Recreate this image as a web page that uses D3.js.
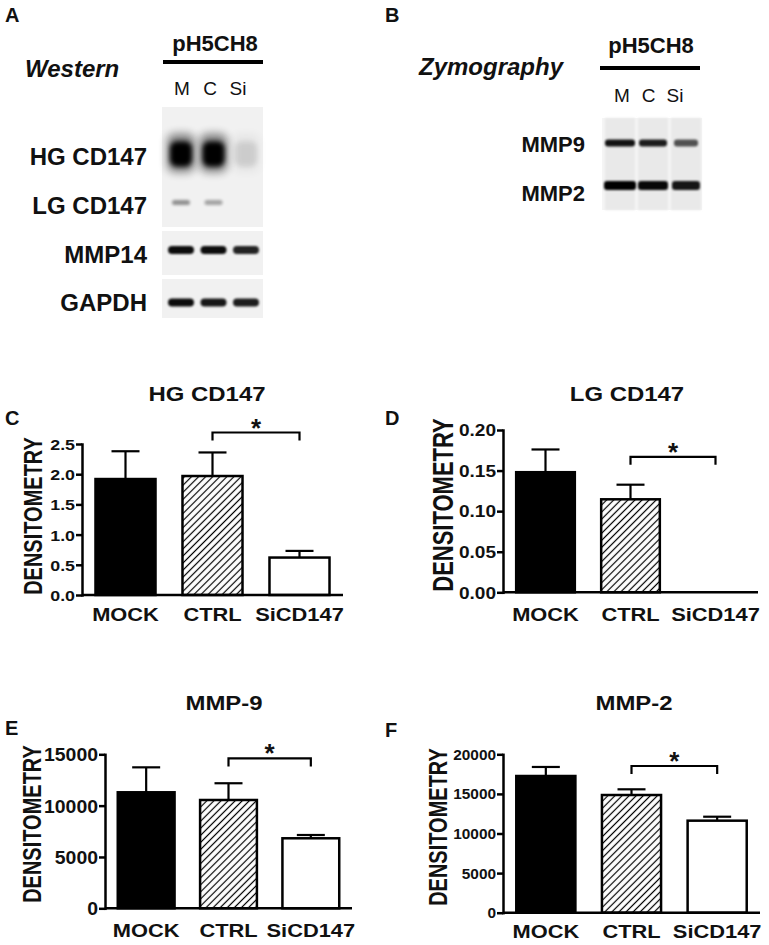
<!DOCTYPE html>
<html>
<head>
<meta charset="utf-8">
<script src="https://cdn.jsdelivr.net/npm/d3@7"></script>
<style>
  body { margin: 0; background: #fff; }
  text { font-family: "Liberation Sans", Arial, sans-serif; fill: #111; }
</style>
</head>
<body>
<svg id="fig"></svg>
<script>
// ---- data ----
const groups = ["MOCK", "CTRL", "SiCD147"];

const hgMeans = [1.92, 1.97, 0.62];
const hgSem = [0.46, 0.39, 0.11];
const hgSig = 2.69;

const lgMeans = [0.148, 0.1146, 0];
const lgSem = [0.028, 0.018, 0];
const lgSig = 0.167;

const mmp9Means = [11300, 10550, 6820];
const mmp9Sem = [2430, 1630, 320];
const mmp9Sig = 14600;

const mmp2Means = [17260, 14860, 11620];
const mmp2Sem = [1140, 720, 500];
const mmp2Sig = 18520;

const lanes = ["M", "C", "Si"];
const westernRows = ["HG CD147", "LG CD147", "MMP14", "GAPDH"];
const westernBands = [[1.0, 1.0, 0.1], [0.4, 0.32, 0], [0.95, 0.95, 0.85], [0.95, 0.9, 0.88]];
const zymoRows = ["MMP9", "MMP2"];
const zymoBands = [[0.92, 0.88, 0.65], [1.0, 0.97, 0.9]];

// ---- setup ----
const svg = d3.select("#fig").attr("width", 769).attr("height", 945);
const defs = svg.append("defs");

const hatch = defs.append("pattern")
  .attr("id", "hatch")
  .attr("patternUnits", "userSpaceOnUse")
  .attr("width", 5).attr("height", 5)
  .attr("patternTransform", "rotate(45)");
hatch.append("rect").attr("width", 5).attr("height", 5).attr("fill", "#fff");
hatch.append("line").attr("x1", 2.5).attr("x2", 2.5).attr("y1", 0).attr("y2", 5)
  .attr("stroke", "#000").attr("stroke-width", 1.2);

[1, 1.5, 2.5, 4].forEach(s => {
  defs.append("filter").attr("id", "blur" + String(s).replace(".", "_"))
    .attr("x", "-50%").attr("y", "-80%").attr("width", "200%").attr("height", "260%")
    .append("feGaussianBlur").attr("stdDeviation", s);
});

function label(g, x, y, str, size, opts = {}) {
  const sx = opts.sx || 1;
  return g.append("text")
    .attr("transform", `translate(${x},${y}) scale(${sx},1)`)
    .attr("text-anchor", opts.anchor || "start")
    .attr("font-size", size)
    .attr("font-weight", opts.weight || "bold")
    .attr("font-style", opts.italic ? "italic" : null)
    .text(str);
}

// ---- top blots ----
function header(o) {
  const g = svg.append("g");
  label(g, o.letterX, 22, o.letter, 20);
  label(g, o.methodX, o.methodY, o.method, 24, { italic: true });
  label(g, o.tagX, o.tagY, "pH5CH8", 22, { anchor: "middle" });
  g.append("rect").attr("x", o.lineX).attr("y", o.lineY).attr("width", 100).attr("height", 4).attr("fill", "#000");
  const lx = d3.scalePoint().domain(lanes).range(o.laneLabelRange);
  g.selectAll("text.lane").data(lanes).join("text")
    .attr("class", "lane")
    .attr("x", d => lx(d)).attr("y", o.laneLabelY)
    .attr("text-anchor", "middle").attr("font-size", 19)
    .text(d => d);
}

header({ letter: "A", letterX: 5, method: "Western", methodX: 25, methodY: 77,
  tagX: 215, tagY: 51, lineX: 163, lineY: 60, laneLabelRange: [182, 238], laneLabelY: 95 });
header({ letter: "B", letterX: 385, method: "Zymography", methodX: 419, methodY: 75,
  tagX: 651, tagY: 53, lineX: 600, lineY: 66, laneLabelRange: [622, 675], laneLabelY: 102 });

// western membranes
const westLane = d3.scalePoint().domain(lanes).range([181, 246]);
const westMembranes = [{ y0: 107, y1: 227 }, { y0: 231, y1: 275 }, { y0: 279, y1: 318 }];
const westLayout = [
  { y: 154, w: 22, h: 25, blur: 2.5, halo: true, labelY: 165 },
  { y: 202.5, w: 18, h: 5, blur: 1.5, labelY: 213.5 },
  { y: 250, w: 26, h: 8, blur: 1, labelY: 262.5 },
  { y: 302.5, w: 26, h: 8, blur: 1, labelY: 311 }
];
const gW = svg.append("g");
gW.selectAll("rect.mem").data(westMembranes).join("rect")
  .attr("x", 162).attr("width", 101)
  .attr("y", d => d.y0).attr("height", d => d.y1 - d.y0)
  .attr("fill", "#f1f1f1");
westernRows.forEach((name, r) => {
  const L = westLayout[r];
  const bands = lanes.map((k, i) => ({ k, v: westernBands[r][i] })).filter(d => d.v > 0);
  if (L.halo) {
    gW.selectAll(null).data(bands).join("rect")
      .attr("x", d => westLane(d.k) - L.w / 2 - 3).attr("width", L.w + 6)
      .attr("y", L.y - L.h / 2 - 8).attr("height", L.h + 14)
      .attr("rx", 8)
      .attr("fill", "#000").attr("opacity", d => d.v * 0.45)
      .attr("filter", "url(#blur4)");
  }
  gW.selectAll(null).data(bands).join("rect")
    .attr("x", d => westLane(d.k) - L.w / 2).attr("width", L.w)
    .attr("y", L.y - L.h / 2).attr("height", L.h)
    .attr("rx", Math.min(L.h / 2, 7))
    .attr("fill", "#000").attr("opacity", d => d.v)
    .attr("filter", "url(#blur" + String(L.blur).replace(".", "_") + ")");
  label(gW, 147, L.labelY, name, 24, { anchor: "end" });
});

// zymography gel
const zymoLane = d3.scalePoint().domain(lanes).range([620, 686]);
const zymoLayout = [
  { y: 143, h: 7, widths: [30, 28, 24], labelY: 152 },
  { y: 185.5, h: 9, widths: [32, 30, 28], labelY: 201 }
];
const gZ = svg.append("g");
gZ.append("rect").attr("x", 602).attr("y", 118).attr("width", 100).attr("height", 92).attr("fill", "#f5f5f5");
gZ.selectAll("rect.lanebg").data(lanes).join("rect")
  .attr("x", d => zymoLane(d) - 15).attr("width", 30)
  .attr("y", 118).attr("height", 92)
  .attr("fill", "#e9e9e9").attr("filter", "url(#blur1)");
zymoRows.forEach((name, r) => {
  const L = zymoLayout[r];
  const bands = lanes.map((k, i) => ({ k, v: zymoBands[r][i], w: L.widths[i] }));
  gZ.selectAll(null).data(bands).join("rect")
    .attr("x", d => zymoLane(d.k) - d.w / 2).attr("width", d => d.w)
    .attr("y", L.y - L.h / 2).attr("height", L.h)
    .attr("rx", 3)
    .attr("fill", "#000").attr("opacity", d => d.v)
    .attr("filter", "url(#blur1)");
  label(gZ, 585, L.labelY, name, 22, { anchor: "end" });
});

// ---- bar charts ----
const fills = ["#000", "url(#hatch)", "#fff"];

function barPanel(p) {
  const g = svg.append("g");
  const x = d3.scaleBand().domain(groups).range([p.x0, p.x1]).paddingInner(0.31).paddingOuter(0.155);
  const y = d3.scaleLinear().domain([0, p.max]).range([p.yBase, p.yTop]);
  const rows = groups.map((k, i) => ({ k, i, m: p.means[i], s: p.sems[i] }));

  label(g, p.letterX, p.letterY, p.letter, 20);
  label(g, p.titleX, p.titleY, p.title, 21, { anchor: "middle", sx: 1.14 });

  g.append("text")
    .attr("transform", `translate(${p.ylabX},${p.ylabY}) scale(1.3,1) rotate(-90)`)
    .attr("text-anchor", "middle").attr("dominant-baseline", "central")
    .attr("font-size", p.ylabSize).attr("font-weight", "bold")
    .text("DENSITOMETRY");

  // bars
  g.selectAll("rect.bar").data(rows.filter(d => d.m > 0)).join("rect")
    .attr("class", "bar")
    .attr("x", d => x(d.k)).attr("width", x.bandwidth())
    .attr("y", d => y(d.m)).attr("height", d => y(0) - y(d.m))
    .attr("fill", d => fills[d.i])
    .attr("stroke", "#000").attr("stroke-width", 2.5);

  // error bars (upper only)
  const eb = rows.filter(d => d.s > 0);
  g.selectAll("line.err").data(eb).join("line")
    .attr("x1", d => x(d.k) + x.bandwidth() / 2).attr("x2", d => x(d.k) + x.bandwidth() / 2)
    .attr("y1", d => y(d.m)).attr("y2", d => y(d.m + d.s))
    .attr("stroke", "#000").attr("stroke-width", 2.2);
  g.selectAll("line.cap").data(eb).join("line")
    .attr("x1", d => x(d.k) + x.bandwidth() / 2 - 14).attr("x2", d => x(d.k) + x.bandwidth() / 2 + 14)
    .attr("y1", d => y(d.m + d.s)).attr("y2", d => y(d.m + d.s))
    .attr("stroke", "#000").attr("stroke-width", 2.2);

  // y axis
  const ax = g.append("g")
    .attr("transform", `translate(${p.x0},0)`)
    .call(d3.axisLeft(y)
      .tickValues(d3.range(0, p.max + p.step / 2, p.step))
      .tickFormat(d3.format(p.fmt))
      .tickSize(6).tickSizeOuter(0))
    .attr("font-size", null).attr("font-family", null);
  ax.selectAll("path, line").attr("stroke", "#000").attr("stroke-width", 2.5);
  ax.select(".domain").attr("stroke-linecap", "square");
  ax.selectAll("text")
    .attr("x", 0).attr("dy", "0.36em")
    .attr("transform", `translate(-7,0) scale(${p.tickSx},1)`)
    .attr("font-size", p.tickFont).attr("font-weight", "bold");

  // baseline
  g.append("line")
    .attr("x1", p.x0).attr("x2", p.x1)
    .attr("y1", y(0)).attr("y2", y(0))
    .attr("stroke", "#000").attr("stroke-width", 2.5);

  // category labels
  groups.forEach(k => label(g, x(k) + x.bandwidth() / 2, p.catY, k, 19, { anchor: "middle", sx: 1.15 }));

  // significance bracket CTRL vs SiCD147
  const xa = x("CTRL") + x.bandwidth() / 2, xb = x("SiCD147") + x.bandwidth() / 2, yb = y(p.sig);
  g.append("path")
    .attr("d", `M${xa},${yb + 8}V${yb}H${xb}V${yb + 8}`)
    .attr("fill", "none").attr("stroke", "#000").attr("stroke-width", 2.2);
  label(g, (xa + xb) / 2, yb + 4, "*", 26, { anchor: "middle" });
}

barPanel({ letter: "C", letterX: 5, letterY: 425, title: "HG CD147", titleX: 207, titleY: 401,
  ylabX: 33, ylabY: 516, ylabSize: 20, catY: 621, tickFont: 15.5, tickSx: 1.15,
  x0: 82, x1: 343, yTop: 444, yBase: 595, max: 2.5, step: 0.5, fmt: ".1f",
  means: hgMeans, sems: hgSem, sig: hgSig });
barPanel({ letter: "D", letterX: 385, letterY: 425, title: "LG CD147", titleX: 627, titleY: 401,
  ylabX: 443, ylabY: 505, ylabSize: 22, catY: 621, tickFont: 16, tickSx: 1.19,
  x0: 503, x1: 758, yTop: 430, yBase: 592.3, max: 0.2, step: 0.05, fmt: ".2f",
  means: lgMeans, sems: lgSem, sig: lgSig });
barPanel({ letter: "E", letterX: 5, letterY: 735, title: "MMP-9", titleX: 224, titleY: 710,
  ylabX: 32, ylabY: 824, ylabSize: 20, catY: 937, tickFont: 18, tickSx: 1.08,
  x0: 105, x1: 352, yTop: 754.3, yBase: 908.3, max: 15000, step: 5000, fmt: "d",
  means: mmp9Means, sems: mmp9Sem, sig: mmp9Sig });
barPanel({ letter: "F", letterX: 385, letterY: 737, title: "MMP-2", titleX: 634, titleY: 710,
  ylabX: 438, ylabY: 827, ylabSize: 20, catY: 938, tickFont: 14, tickSx: 1.1,
  x0: 503, x1: 760, yTop: 754.3, yBase: 912.7, max: 20000, step: 5000, fmt: "d",
  means: mmp2Means, sems: mmp2Sem, sig: mmp2Sig });
</script>
</body>
</html>
